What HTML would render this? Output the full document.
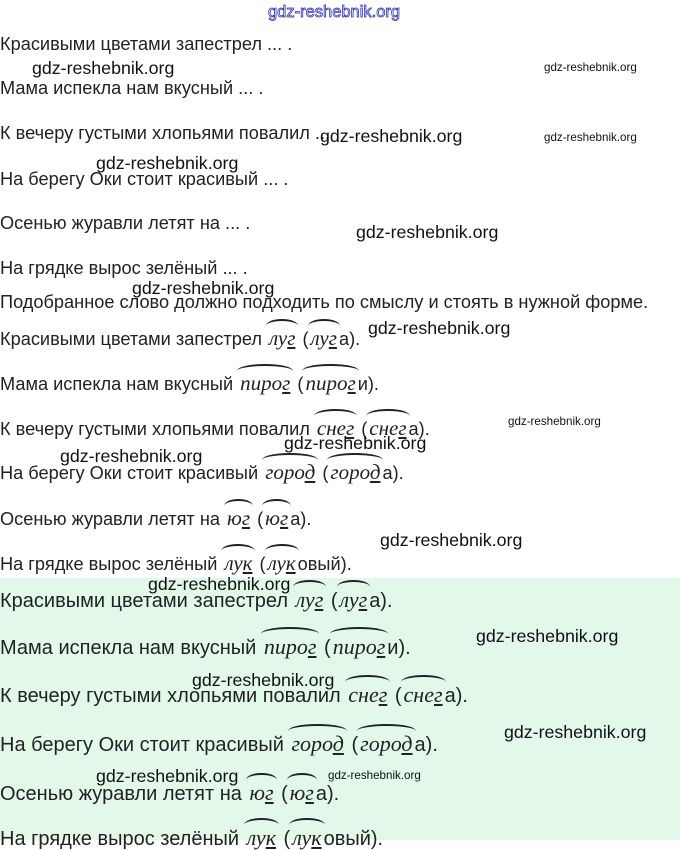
<!DOCTYPE html>
<html><head><meta charset="utf-8"><style>
body{margin:0;width:680px;height:840px;background:#fff;position:relative;overflow:hidden;font-family:"Liberation Sans",sans-serif;color:#222}
.l{position:absolute;left:0;font-size:18.2px;white-space:nowrap;line-height:20px}
.g{position:absolute;left:0;top:578px;width:680px;height:262px;background:#e2f9ea}
.gl{position:absolute;left:0;font-size:20px;white-space:nowrap;line-height:20px;transform:scaleX(1.0);transform-origin:left}
.w{position:absolute;color:#111;white-space:nowrap;line-height:20px}
.b{font-size:17.8px}.s{font-size:11.6px}
.r{position:relative;font-family:"Liberation Serif",serif;font-style:italic;font-size:21px;padding:0 2px}
.gl .r{font-size:22px}
.r::before{content:"";position:absolute;left:-1px;right:-1px;top:-7px;height:12px;border-top:2px solid #222;border-radius:50% 50% 0 0}
</style></head><body>
<div class="w" style="left:268px;top:2px;font-size:16.5px;color:#fff;-webkit-text-stroke:0.8px #3030c0">gdz-reshebnik.org</div>
<div class="l" style="top:34px">Красивыми цветами запестрел ... .</div>
<div class="w b" style="left:32px;top:58px">gdz-reshebnik.org</div>
<div class="w s" style="left:544px;top:58px">gdz-reshebnik.org</div>
<div class="l" style="top:78px">Мама испекла нам вкусный ... .</div>
<div class="l" style="top:123px">К вечеру густыми хлопьями повалил ...</div>
<div class="w b" style="left:320px;top:126px">gdz-reshebnik.org</div>
<div class="w s" style="left:544px;top:128px">gdz-reshebnik.org</div>
<div class="w b" style="left:96px;top:153px">gdz-reshebnik.org</div>
<div class="l" style="top:169px">На берегу Оки стоит красивый ... .</div>
<div class="l" style="top:213px">Осенью журавли летят на ... .</div>
<div class="w b" style="left:356px;top:222px">gdz-reshebnik.org</div>
<div class="l" style="top:258px">На грядке вырос зелёный ... .</div>
<div class="w b" style="left:132px;top:278px">gdz-reshebnik.org</div>
<div class="l" style="top:292px">Подобранное слово должно подходить по смыслу и стоять в нужной форме.</div>
<div class="l" style="top:328px">Красивыми цветами запестрел <span class="r">лу<u>г</u></span> (<span class="r">лу<u>г</u></span>а).</div>
<div class="w b" style="left:368px;top:318px">gdz-reshebnik.org</div>
<div class="l" style="top:373px">Мама испекла нам вкусный <span class="r">пиро<u>г</u></span> (<span class="r">пиро<u>г</u></span>и).</div>
<div class="l" style="top:418px">К вечеру густыми хлопьями повалил <span class="r">сне<u>г</u></span> (<span class="r">сне<u>г</u></span>а).</div>
<div class="w s" style="left:508px;top:412px">gdz-reshebnik.org</div>
<div class="w b" style="left:284px;top:433px">gdz-reshebnik.org</div>
<div class="w b" style="left:60px;top:446px">gdz-reshebnik.org</div>
<div class="l" style="top:462px">На берегу Оки стоит красивый <span class="r">горо<u>д</u></span> (<span class="r">горо<u>д</u></span>а).</div>
<div class="l" style="top:508px">Осенью журавли летят на <span class="r">ю<u>г</u></span> (<span class="r">ю<u>г</u></span>а).</div>
<div class="w b" style="left:380px;top:530px">gdz-reshebnik.org</div>
<div class="l" style="top:553px">На грядке вырос зелёный <span class="r">лу<u>к</u></span> (<span class="r">лу<u>к</u></span>овый).</div>
<div class="g"></div>
<div class="w b" style="left:148px;top:574px">gdz-reshebnik.org</div>
<div class="gl" style="top:590px">Красивыми цветами запестрел <span class="r">лу<u>г</u></span> (<span class="r">лу<u>г</u></span>а).</div>
<div class="w b" style="left:476px;top:626px">gdz-reshebnik.org</div>
<div class="gl" style="top:637px">Мама испекла нам вкусный <span class="r">пиро<u>г</u></span> (<span class="r">пиро<u>г</u></span>и).</div>
<div class="w b" style="left:192px;top:670px">gdz-reshebnik.org</div>
<div class="gl" style="top:685px">К вечеру густыми хлопьями повалил <span class="r">сне<u>г</u></span> (<span class="r">сне<u>г</u></span>а).</div>
<div class="w b" style="left:504px;top:722px">gdz-reshebnik.org</div>
<div class="gl" style="top:734px">На берегу Оки стоит красивый <span class="r">горо<u>д</u></span> (<span class="r">горо<u>д</u></span>а).</div>
<div class="w b" style="left:96px;top:766px">gdz-reshebnik.org</div>
<div class="w s" style="left:328px;top:766px">gdz-reshebnik.org</div>
<div class="gl" style="top:783px">Осенью журавли летят на <span class="r">ю<u>г</u></span> (<span class="r">ю<u>г</u></span>а).</div>
<div class="gl" style="top:828px">На грядке вырос зелёный <span class="r">лу<u>к</u></span> (<span class="r">лу<u>к</u></span>овый).</div>
</body></html>
